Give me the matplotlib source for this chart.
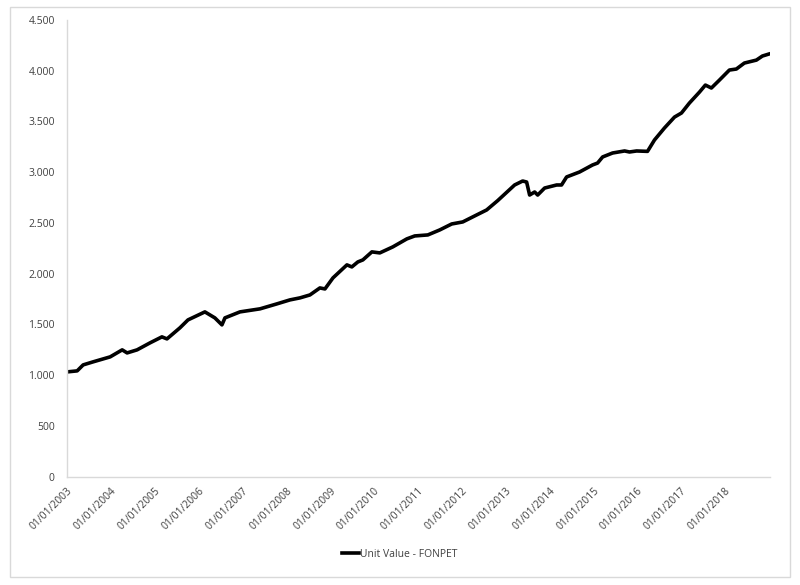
import matplotlib
matplotlib.use("Agg")
import matplotlib.pyplot as plt
import matplotlib.dates as mdates
from matplotlib.patches import Rectangle
from matplotlib.ticker import FuncFormatter
import pandas as pd

# Unit value of FONPET
dates = [
    "2003-01-01", "2003-03-25", "2003-05-14", "2003-08-05", "2003-10-02", "2003-12-25",
    "2004-04-03", "2004-05-14", "2004-08-05", "2004-11-21", "2005-02-28", "2005-04-11",
    "2005-07-28", "2005-10-03", "2006-02-21", "2006-05-15", "2006-07-13", "2006-08-07",
    "2006-12-10", "2007-05-26", "2007-10-14", "2008-01-30", "2008-04-23", "2008-07-15",
    "2008-10-06", "2008-11-17", "2009-01-23", "2009-05-19", "2009-06-29", "2009-08-18",
    "2009-09-29", "2009-12-13", "2010-02-17", "2010-06-05", "2010-09-30", "2010-12-05",
    "2011-03-24", "2011-07-01", "2011-10-09", "2012-01-09", "2012-05-04", "2012-07-26",
    "2012-10-26", "2013-03-16", "2013-05-22", "2013-06-24", "2013-07-19", "2013-08-30",
    "2013-09-24", "2013-11-21", "2014-03-01", "2014-04-11", "2014-05-23", "2014-09-08",
    "2014-12-25", "2015-02-05", "2015-03-19", "2015-06-10", "2015-09-18", "2015-10-29",
    "2015-12-27", "2016-03-27", "2016-05-24", "2016-08-15", "2016-11-07", "2017-01-04",
    "2017-03-11", "2017-06-03", "2017-07-22", "2017-09-10", "2017-11-16", "2018-02-07",
    "2018-04-06", "2018-06-12", "2018-09-20", "2018-11-09", "2018-12-31",
]
unit_value = [
    1033, 1043, 1102, 1132, 1152, 1181,
    1250, 1220, 1250, 1319, 1378, 1358,
    1467, 1545, 1624, 1565, 1496, 1565,
    1624, 1654, 1703, 1742, 1762, 1791,
    1860, 1850, 1959, 2087, 2067, 2116,
    2136, 2215, 2205, 2264, 2343, 2372,
    2382, 2431, 2490, 2510, 2579, 2628,
    2720, 2874, 2913, 2903, 2775, 2805,
    2775, 2844, 2874, 2874, 2953, 3002,
    3071, 3090, 3150, 3189, 3209, 3199,
    3209, 3205, 3317, 3435, 3543, 3583,
    3681, 3789, 3858, 3829, 3907, 4006,
    4016, 4075, 4104, 4144, 4163,
]
tick_years = list(range(2003, 2019))
series_label = "Unit Value - FONPET"

df = pd.DataFrame({"date": pd.to_datetime(dates), "value": unit_value})

plt.rcParams["font.family"] = ["Open Sans", "DejaVu Sans"]

fig = plt.figure(figsize=(8, 5.85), dpi=100)
ax = fig.add_axes([0.084, 0.185, 0.878, 0.781])

ax.plot(df["date"], df["value"], color="black", linewidth=2.6,
        solid_joinstyle="round", label=series_label)

ax.set_ylim(0, 4500)
ax.set_yticks(range(0, 4501, 500))
ax.yaxis.set_major_formatter(FuncFormatter(lambda v, _: f"{int(v):,}".replace(",", ".")))

ticks = [pd.Timestamp(f"{y}-01-01") for y in tick_years]
ax.set_xticks(ticks)
ax.set_xticklabels([t.strftime("%d/%m/%Y") for t in ticks], rotation=45,
                   ha="right", rotation_mode="anchor")
ax.set_xlim(pd.Timestamp("2003-01-01"), pd.Timestamp("2019-01-08"))

for s in ["top", "right"]:
    ax.spines[s].set_visible(False)
for s in ["left", "bottom"]:
    ax.spines[s].set_color("#d9d9d9")
    ax.spines[s].set_linewidth(1)

ax.tick_params(axis="both", length=0, colors="#404040", labelsize=7.5)
ax.tick_params(axis="x", pad=6)
ax.tick_params(axis="y", pad=9)

fig.legend(loc="center", bbox_to_anchor=(0.5, 0.052), frameon=False,
           fontsize=7.5, handlelength=1.6, handletextpad=0.1, labelcolor="#404040")

# outer chart border
fig.add_artist(Rectangle((0.0125, 0.014), 0.975, 0.974, transform=fig.transFigure,
                         fill=False, edgecolor="#d9d9d9", linewidth=1))

plt.savefig("out.png", dpi=100)
plt.close()
